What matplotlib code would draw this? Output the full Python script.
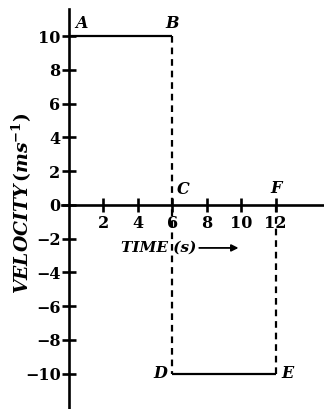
import matplotlib
matplotlib.use('Agg')
from matplotlib import pyplot

# velocity-time graph data
time_pts = [0, 6, 6, 12, 12]
vel_pts = [10, 10, -10, -10, 0]
seg_styles = ['-', '--', '-', '--']
point_names = ['A', 'B', 'C', 'D', 'E', 'F']
point_t = [0, 6, 6, 6, 12, 12]
point_v = [10, 10, 0, -10, -10, 0]
x_ticks = [2, 4, 6, 8, 10, 12]
y_ticks = [-10, -8, -6, -4, -2, 0, 2, 4, 6, 8, 10]

pyplot.rcParams['font.family'] = ['DejaVu Serif']
pyplot.rcParams['mathtext.fontset'] = 'dejavuserif'

fig = pyplot.figure(figsize=(3.24, 4.09), dpi=100)
ax = fig.add_axes([0, 0, 1, 1])
ax.set_xlim(-4.0, 14.8)
ax.set_ylim(-12.1, 12.15)

for sp in ['top', 'right']:
    ax.spines[sp].set_visible(False)
ax.spines['left'].set_position(('data', 0))
ax.spines['bottom'].set_position(('data', 0))
ax.spines['left'].set_bounds(-12.1, 11.6)
ax.spines['bottom'].set_bounds(-0.4, 14.8)
for sp in ['left', 'bottom']:
    ax.spines[sp].set_linewidth(1.9)

ax.set_xticks(x_ticks)
ax.set_yticks(y_ticks)
ax.set_xticklabels([str(t) for t in x_ticks], fontsize=11.5, fontweight='bold')
ax.set_yticklabels([str(v).replace('-', '\u2212') for v in y_ticks], fontsize=11.5, fontweight='bold')
ax.tick_params(axis='both', direction='inout', length=10, width=1.9, pad=1)
ax.tick_params(axis='x', pad=2)

# graph segments
for i in range(len(seg_styles)):
    ax.plot(time_pts[i:i + 2], vel_pts[i:i + 2], color='black', lw=1.6,
            linestyle=seg_styles[i], dashes=(3, 2.2) if seg_styles[i] == '--' else (None, None),
            solid_capstyle='butt')

offsets = {'A': (0.35, 0.75, 'left'), 'B': (0.0, 0.75, 'center'),
           'C': (0.25, 0.9, 'left'), 'D': (-0.3, 0.0, 'right'),
           'E': (0.3, 0.0, 'left'), 'F': (0.0, 1.0, 'center')}
for name, t, v in zip(point_names, point_t, point_v):
    dx, dy, ha = offsets[name]
    ax.text(t + dx, v + dy, name, fontsize=11.5, fontweight='bold', fontstyle='italic',
            ha=ha, va='center')

ax.text(3.0, -2.55, 'TIME (s)', fontsize=11, fontweight='bold', fontstyle='italic',
        ha='left', va='center')
ax.annotate('', xy=(10.0, -2.55), xytext=(7.4, -2.55),
            arrowprops=dict(arrowstyle='-|>', color='black', lw=1.3, mutation_scale=10))

ax.text(-2.75, 0.1, r'$\mathbfit{VELOCITY}\,\mathbf{(}\mathbfit{ms}^{\mathbf{-1}}\mathbf{)}$',
        fontsize=13.5, rotation=90, ha='center', va='center')

fig.savefig('out.png', dpi=100)
